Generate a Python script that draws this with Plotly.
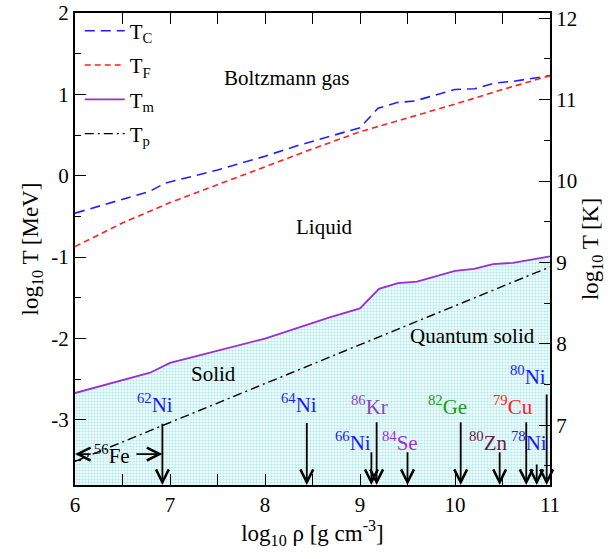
import plotly.graph_objects as go

# ---- data ----
rho_C = [6.0, 6.79, 6.95, 7.5, 8.0, 8.37, 9.0, 9.19, 9.39, 9.58, 10.0, 10.21, 10.42, 10.61, 11.0]
T_C = [-0.46, -0.19, -0.09, 0.07, 0.24, 0.38, 0.59, 0.83, 0.90, 0.92, 1.06, 1.07, 1.14, 1.16, 1.23]

rho_F = [6.0, 6.5, 7.0, 7.5, 8.0, 8.5, 9.0, 9.5, 10.0, 10.5, 11.0]
T_F = [-0.87, -0.58, -0.33, -0.11, 0.11, 0.33, 0.54, 0.71, 0.88, 1.06, 1.23]

rho_m = [6.0, 6.79, 7.0, 8.0, 8.68, 9.0, 9.20, 9.40, 9.60, 10.0, 10.2, 10.4, 10.61, 11.0]
T_m = [-2.67, -2.42, -2.30, -2.00, -1.74, -1.63, -1.39, -1.32, -1.30, -1.17, -1.145, -1.085, -1.07, -0.99]

rho_p = [6.0, 11.0]
T_p = [-3.51, -1.12]

# isotope arrows: x position, top of arrow
arrow_x = [6.92, 8.44, 9.12, 9.175, 9.50, 10.06, 10.47, 10.75, 10.86, 10.965]
arrow_top = [-3.03, -3.02, -3.38, -3.01, -3.38, -3.01, -3.38, -3.01, -3.53, -2.67]

# isotope labels
iso_mass = ["62", "64", "66", "86", "84", "82", "80", "79", "78", "80"]
iso_elem = ["Ni", "Ni", "Ni", "Kr", "Se", "Ge", "Zn", "Cu", "Ni", "Ni"]
iso_x = [6.84, 8.36, 8.93, 9.10, 9.42, 9.92, 10.35, 10.61, 10.78, 10.77]
iso_y = [-2.80, -2.80, -3.27, -2.82, -3.27, -2.82, -3.27, -2.82, -3.27, -2.45]
iso_color = ["#1a1aff", "#1a1aff", "#1a1aff", "#8a45b8", "#a030d0", "#1a9a1a",
             "#6b1a4f", "#ff2020", "#1a1aff", "#1a1aff"]

# region labels
region_text = ["Boltzmann gas", "Liquid", "Solid", "Quantum solid"]
region_x = [8.23, 8.62, 7.46, 10.18]
region_y = [1.20, -0.63, -2.44, -1.97]

# tick labels (plain hyphen minus as in the reference)
x_ticks = [6, 7, 8, 9, 10, 11]
x_ticktext = ["6", "7", "8", "9", "10", "11"]
y_ticks = [-3, -2, -1, 0, 1, 2]
y_ticktext = ["-3", "-2", "-1", "0", "1", "2"]
y2_ticks = [7, 8, 9, 10, 11, 12]
y2_ticktext = ["7", "8", "9", "10", "11", "12"]

Y_MIN, Y_MAX = -3.8, 2.0
K_OFFSET = 10.0645  # log10(1 MeV / k_B in K)

FONT = "Liberation Serif"

fig = go.Figure()

# filled solid region (below T_m)
fig.add_trace(go.Scatter(x=rho_m, y=[Y_MIN] * len(rho_m), mode="lines",
                         line=dict(width=0), showlegend=False, hoverinfo="skip"))
fig.add_trace(go.Scatter(x=rho_m, y=T_m, mode="lines", line=dict(width=0),
                         fill="tonexty", fillcolor="rgba(0,0,0,0)",
                         fillpattern=dict(shape=".", fgcolor="#6fd8d8", bgcolor="#f0fbfb",
                                          size=3, solidity=0.4),
                         showlegend=False, hoverinfo="skip"))

fig.add_trace(go.Scatter(x=rho_C, y=T_C, mode="lines", name="T<sub>C</sub>",
                         line=dict(color="#1f1fff", width=1.6, dash="10px,6px"),
                         legendrank=1, legendgroup="a"))
fig.add_trace(go.Scatter(x=rho_F, y=T_F, mode="lines", name="T<sub>F</sub>",
                         line=dict(color="#ff1f1f", width=1.6, dash="6px,4px"),
                         legendrank=2, legendgroup="b"))
fig.add_trace(go.Scatter(x=rho_p, y=T_p, mode="lines", name="T<sub>p</sub>",
                         line=dict(color="black", width=1.4, dash="9px,4px,2px,4px"),
                         legendrank=4, legendgroup="d"))
fig.add_trace(go.Scatter(x=rho_m, y=T_m, mode="lines", name="T<sub>m</sub>",
                         line=dict(color="#9a2fd0", width=1.8),
                         legendrank=3, legendgroup="c"))

# invisible trace bound to the right (Kelvin) axis
fig.add_trace(go.Scatter(x=rho_C, y=[v + K_OFFSET for v in T_C], yaxis="y2",
                         mode="markers", marker=dict(opacity=0), showlegend=False,
                         hoverinfo="skip"))

ann = []
for xv, top in zip(arrow_x, arrow_top):
    ann.append(dict(x=xv, y=Y_MIN, ax=xv, ay=top, xref="x", yref="y", axref="x", ayref="y",
                    showarrow=True, arrowhead=5, arrowsize=1.4, arrowwidth=1.8,
                    arrowcolor="black", text=""))
# 56Fe double-arrow
fe_y = -3.42
ann.append(dict(x=6.0, y=fe_y, ax=6.18, ay=fe_y, xref="x", yref="y", axref="x", ayref="y",
                showarrow=True, arrowhead=5, arrowsize=1.4, arrowwidth=1.8,
                arrowcolor="black", text=""))
ann.append(dict(x=6.92, y=fe_y, ax=6.63, ay=fe_y, xref="x", yref="y", axref="x", ayref="y",
                showarrow=True, arrowhead=5, arrowsize=1.4, arrowwidth=1.8,
                arrowcolor="black", text=""))
ann.append(dict(x=6.39, y=fe_y, xref="x", yref="y", showarrow=False,
                text="<sup>56</sup>Fe", font=dict(family=FONT, size=21, color="black")))

for m, e, xv, yv, c in zip(iso_mass, iso_elem, iso_x, iso_y, iso_color):
    ann.append(dict(x=xv, y=yv, xref="x", yref="y", showarrow=False,
                    text=f"<sup>{m}</sup>{e}", font=dict(family=FONT, size=21, color=c)))

for t, xv, yv in zip(region_text, region_x, region_y):
    ann.append(dict(x=xv, y=yv, xref="x", yref="y", showarrow=False, text=t,
                    font=dict(family=FONT, size=21, color="black")))

axis_common = dict(showline=True, linecolor="black", linewidth=2, ticks="inside",
                   tickcolor="black", tickwidth=1.3, ticklen=11, showgrid=False,
                   zeroline=False, automargin=False,
                   tickfont=dict(family=FONT, size=21, color="black"))
minor_common = dict(ticks="inside", dtick=0.5, ticklen=6, tickcolor="black", tickwidth=1.2)

fig.update_layout(
    width=615, height=559,
    margin=dict(l=75, r=65, t=12, b=74),
    paper_bgcolor="white", plot_bgcolor="white",
    font=dict(family=FONT, size=21, color="black"),
    xaxis=dict(range=[6, 11], tickvals=x_ticks, ticktext=x_ticktext, mirror="allticks",
               minor=minor_common,
               title=dict(text="log<sub>10</sub> ρ [g cm<sup>-3</sup>]",
                          font=dict(family=FONT, size=23), standoff=8),
               **axis_common),
    yaxis=dict(range=[Y_MIN, Y_MAX], tickvals=y_ticks, ticktext=y_ticktext, mirror=True,
               minor=minor_common,
               title=dict(text="log<sub>10</sub> T [MeV]",
                          font=dict(family=FONT, size=23), standoff=6),
               **axis_common),
    yaxis2=dict(range=[Y_MIN + K_OFFSET, Y_MAX + K_OFFSET], tickvals=y2_ticks,
                ticktext=y2_ticktext, overlaying="y", side="right",
                minor=minor_common,
                title=dict(text="log<sub>10</sub> T [K]",
                           font=dict(family=FONT, size=23), standoff=6),
                **axis_common),
    legend=dict(x=0.01, y=1.003, xanchor="left", yanchor="top", bgcolor="rgba(0,0,0,0)",
                font=dict(family=FONT, size=21), tracegroupgap=4, itemwidth=40),
    annotations=ann,
)

# remove the browser's default 8 px body margin so the figure fills the window exactly
fig.write_html("out.html", config={"displayModeBar": False},
               post_script="document.body.style.margin='0px';")
